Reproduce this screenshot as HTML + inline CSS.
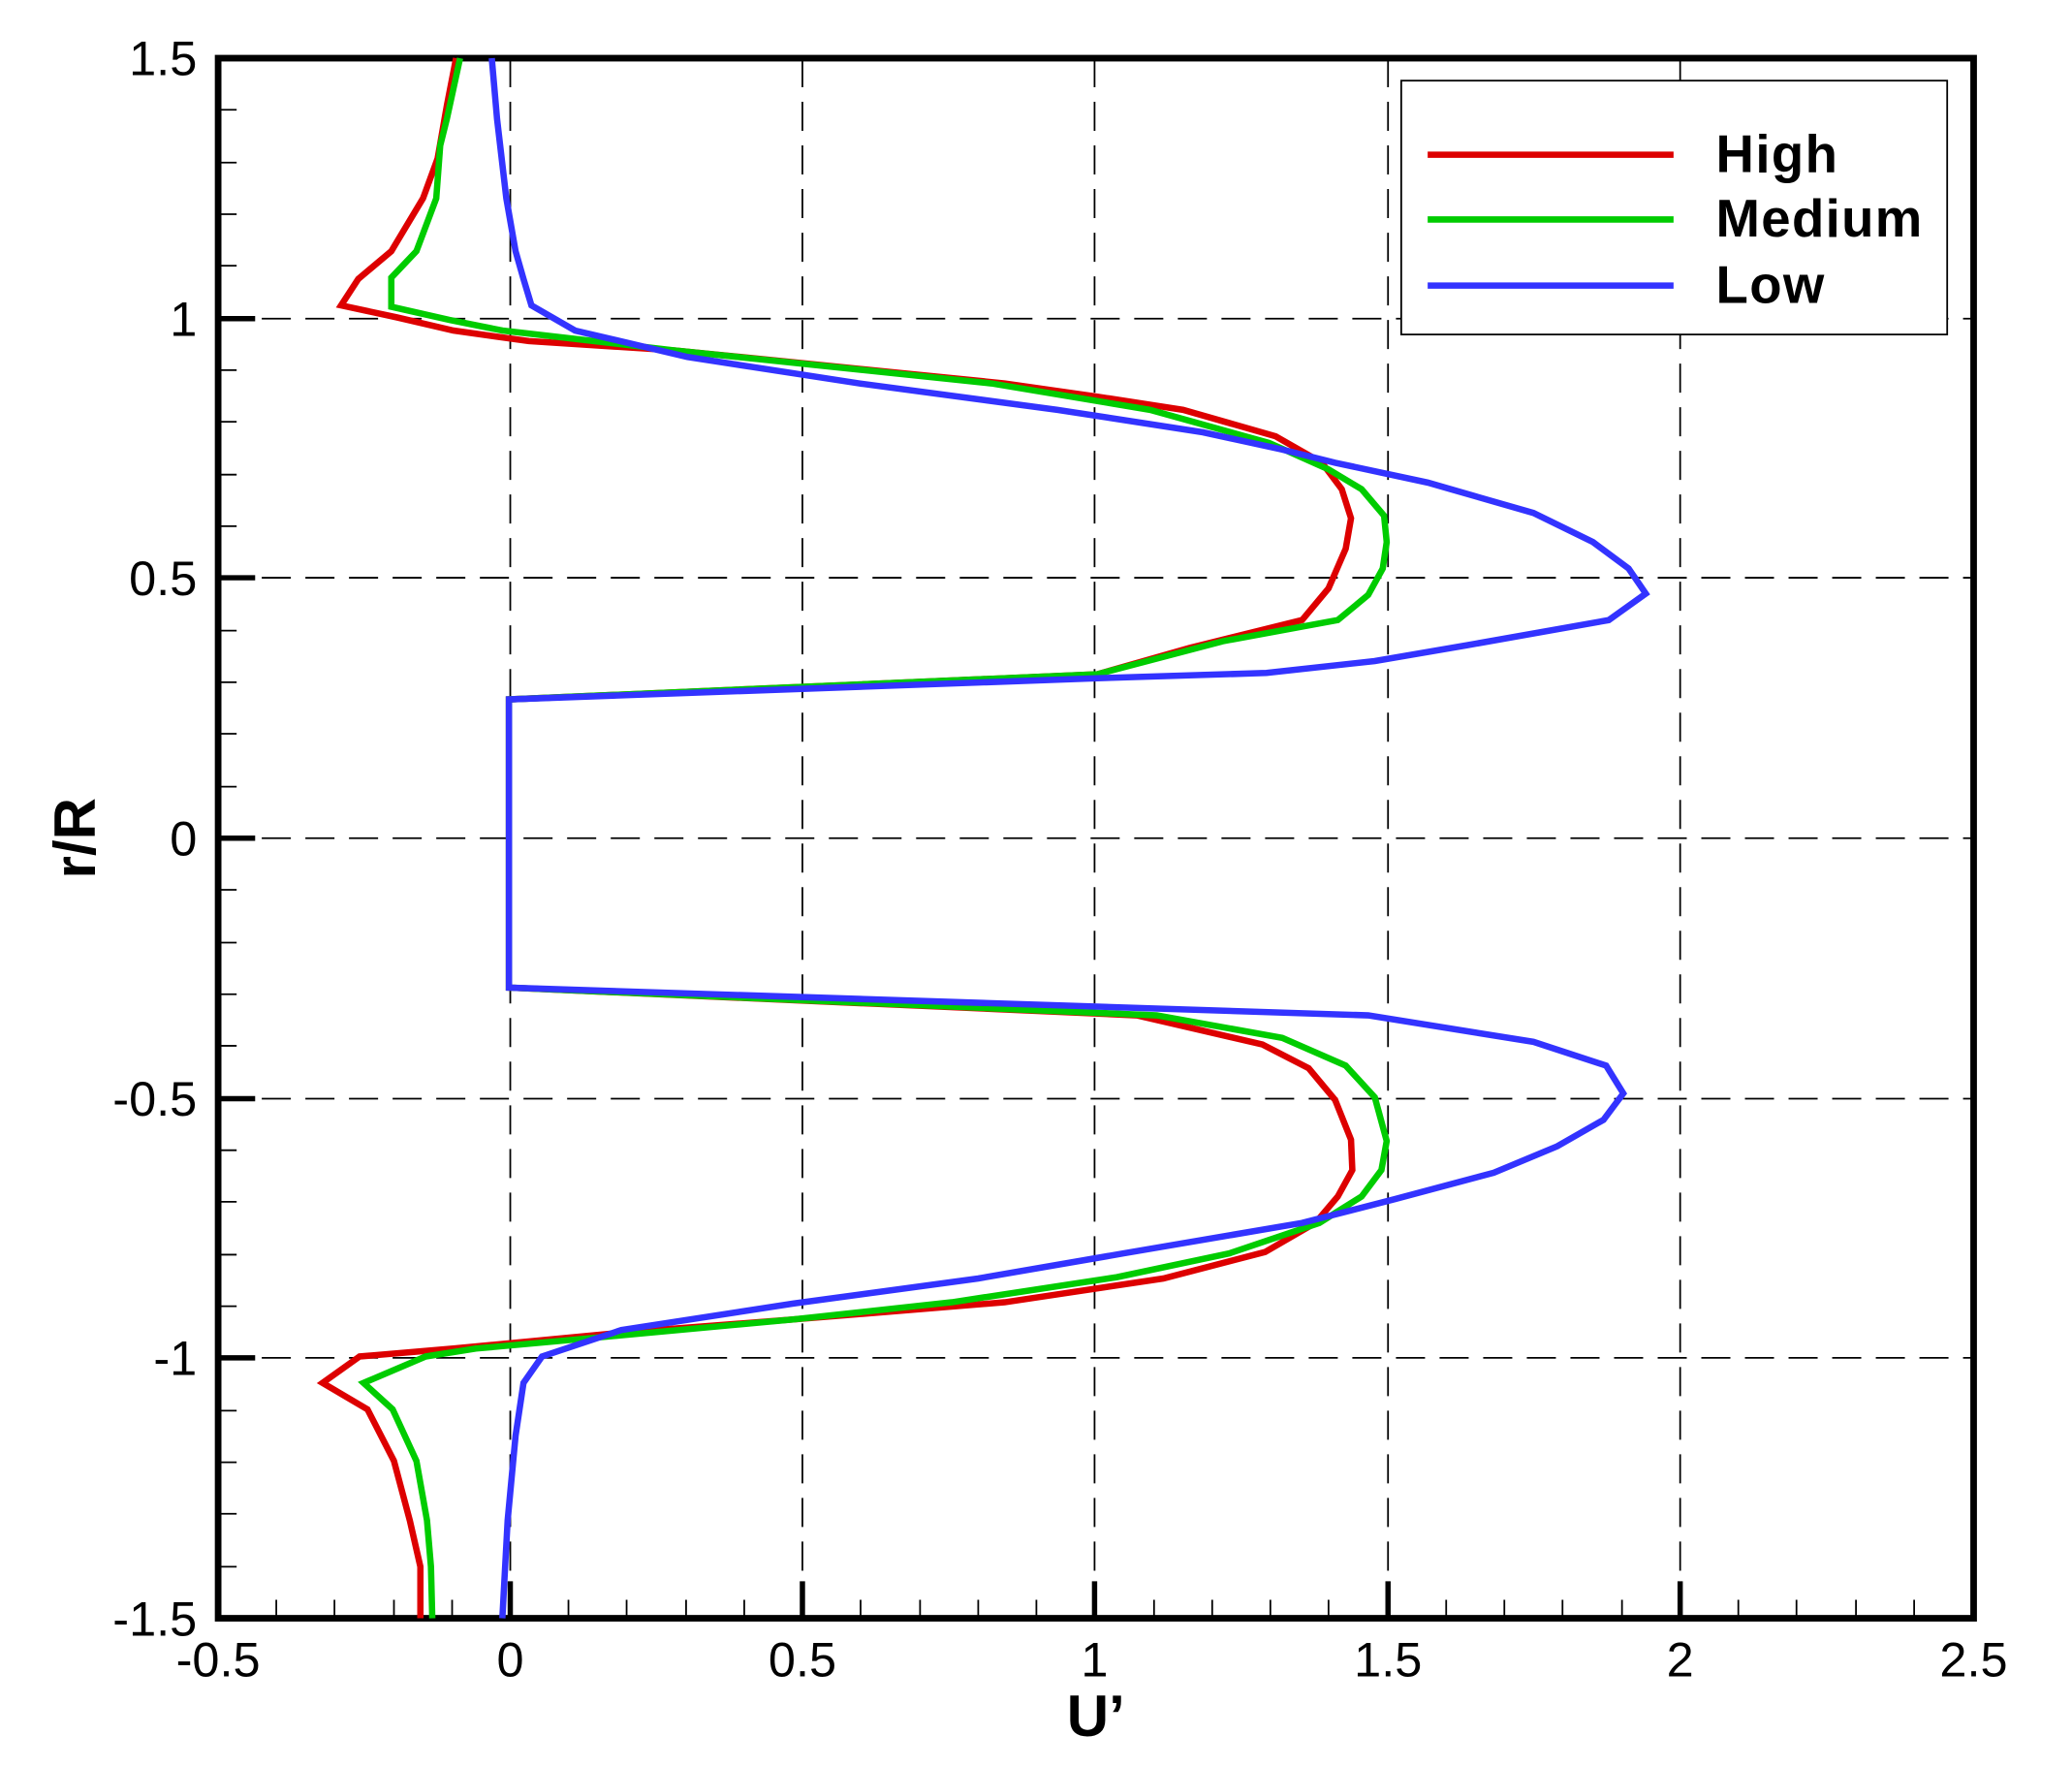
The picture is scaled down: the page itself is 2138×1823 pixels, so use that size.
<!DOCTYPE html>
<html><head><meta charset="utf-8"><style>html,body{margin:0;padding:0;background:#fff}svg{display:block}</style></head>
<body>
<svg width="2138" height="1823" viewBox="0 0 1567.4 1336.5" xmlns="http://www.w3.org/2000/svg" font-family="Liberation Sans, sans-serif">
<rect width="1567.4" height="1336.5" fill="#fff"/>
<g stroke="#000" stroke-width="1.3" stroke-dasharray="22,11" fill="none">
<line x1="386" y1="44" x2="386" y2="1224"/><line x1="607" y1="44" x2="607" y2="1224"/><line x1="828" y1="44" x2="828" y2="1224"/><line x1="1050" y1="44" x2="1050" y2="1224"/><line x1="1271" y1="44" x2="1271" y2="1224"/>
<line x1="165" y1="241" x2="1493" y2="241"/><line x1="165" y1="437" x2="1493" y2="437"/><line x1="165" y1="634" x2="1493" y2="634"/><line x1="165" y1="831" x2="1493" y2="831"/><line x1="165" y1="1027" x2="1493" y2="1027"/>
</g>
<g stroke="#000" fill="none">
<g stroke-width="1.3">
<path d="M209,1224v-14M253,1224v-14M298,1224v-14M342,1224v-14M430,1224v-14M474,1224v-14M519,1224v-14M563,1224v-14M651,1224v-14M696,1224v-14M740,1224v-14M784,1224v-14M873,1224v-14M917,1224v-14M961,1224v-14M1005,1224v-14M1094,1224v-14M1138,1224v-14M1182,1224v-14M1227,1224v-14M1315,1224v-14M1359,1224v-14M1404,1224v-14M1448,1224v-14"/>
<path d="M165,83h14M165,123h14M165,162h14M165,201h14M165,280h14M165,319h14M165,359h14M165,398h14M165,477h14M165,516h14M165,555h14M165,595h14M165,673h14M165,713h14M165,752h14M165,791h14M165,870h14M165,909h14M165,949h14M165,988h14M165,1067h14M165,1106h14M165,1145h14M165,1185h14"/>
</g>
<g stroke-width="4">
<path d="M386,1224v-28M607,1224v-28M828,1224v-28M1050,1224v-28M1271,1224v-28"/>
<path d="M165,241h28M165,437h28M165,634h28M165,831h28M165,1027h28"/>
</g>
<rect x="165" y="44" width="1328" height="1180" stroke-width="5"/>
</g>
<g fill="none" stroke-width="4.8" stroke-linejoin="miter">
<polyline stroke="#dd0000" points="345,44 338,80 331,120 320,150 296,190 271,211 258,231 300,240 343,250 400,258 510,265 760,290 830,300 895,310 965,330 1000,350 1015,370 1022,392 1018,415 1005,445 985,469 900,490 830,510 385,529 385,747 860,768 955,790 990,808 1010,832 1022,862 1023,885 1012,905 995,925 957,947 880,967 760,985 600,998 470,1008 343,1020 272,1026 244,1046 278,1066 298,1105 310,1150 318,1185 318,1224"/>
<polyline stroke="#00cc00" points="348,44 338,90 333,110 330,150 315,190 296,210 296,232 340,242 380,250 510,265 750,290 870,310 960,335 1005,355 1030,370 1047,390 1049,410 1046,430 1035,450 1012,469 925,485 830,510 385,529 385,747 875,768 970,785 1018,806 1040,830 1049,863 1045,885 1030,905 998,925 930,948 845,966 720,985 600,998 470,1010 360,1020 322,1026 275,1046 297,1066 315,1105 323,1150 326,1185 327,1224"/>
<polyline stroke="#3333ff" points="372,44 376,90 383,150 390,190 396,211 402,231 435,250 520,270 650,290 800,310 910,327 970,340 1010,350 1080,365 1160,388 1205,410 1232,430 1245,449 1217,469 1110,488 1040,500 958,509 830,513 385,529 385,747 1035,768 1160,788 1215,806 1228,827 1213,847 1178,867 1130,887 1055,907 985,925 850,948 740,967 600,986 470,1006 410,1026 396,1046 390,1086 384,1150 380,1224"/>
</g>
<rect x="1060" y="61" width="413" height="192" fill="#fff" stroke="#000" stroke-width="1.3"/>
<g stroke-width="4.8"><line x1="1080" y1="117" x2="1266" y2="117" stroke="#dd0000"/><line x1="1080" y1="166" x2="1266" y2="166" stroke="#00cc00"/><line x1="1080" y1="216" x2="1266" y2="216" stroke="#3333ff"/></g>
<g font-weight="bold" font-size="40"><text x="1298" y="130" textLength="92">High</text><text x="1298" y="179" textLength="156">Medium</text><text x="1298" y="229" textLength="82">Low</text></g>
<g font-size="37" text-anchor="end">
<text x="149" y="57">1.5</text><text x="149" y="254">1</text><text x="149" y="450">0.5</text><text x="149" y="647">0</text><text x="149" y="844">-0.5</text><text x="149" y="1040">-1</text><text x="149" y="1237">-1.5</text>
</g>
<g font-size="37" text-anchor="middle">
<text x="165" y="1268">-0.5</text><text x="386" y="1268">0</text><text x="607" y="1268">0.5</text><text x="828" y="1268">1</text><text x="1050" y="1268">1.5</text><text x="1271" y="1268">2</text><text x="1493" y="1268">2.5</text>
</g>
<text x="829" y="1313" font-size="44" font-weight="bold" text-anchor="middle">U’</text>
<text transform="translate(72,634) rotate(-90)" font-size="44" font-weight="bold" text-anchor="middle">r/R</text>
</svg>
</body></html>
